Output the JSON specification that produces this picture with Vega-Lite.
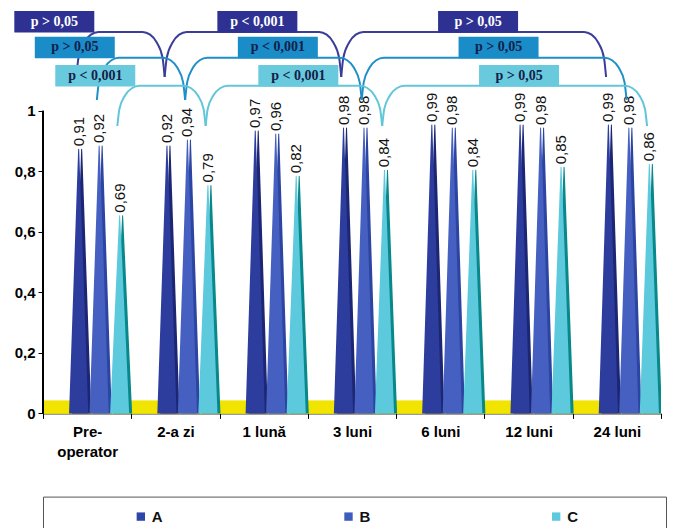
{
  "$schema": "https://vega.github.io/schema/vega-lite/v6.json",
  "padding": {"left": 14, "top": 2, "right": 5, "bottom": 0},
  "background": "white",
  "config": {
    "locale": {"number": {"decimal": ",", "thousands": ".", "grouping": [3], "currency": ["", ""]}},
    "view": {"stroke": null},
    "font": "Liberation Sans"
  },
  "datasets": {
    "scores": [
      {"time": "Pre-operator", "series": "A", "value": 0.91},
      {"time": "Pre-operator", "series": "B", "value": 0.92},
      {"time": "Pre-operator", "series": "C", "value": 0.69},
      {"time": "2-a zi", "series": "A", "value": 0.92},
      {"time": "2-a zi", "series": "B", "value": 0.94},
      {"time": "2-a zi", "series": "C", "value": 0.79},
      {"time": "1 lună", "series": "A", "value": 0.97},
      {"time": "1 lună", "series": "B", "value": 0.96},
      {"time": "1 lună", "series": "C", "value": 0.82},
      {"time": "3 luni", "series": "A", "value": 0.98},
      {"time": "3 luni", "series": "B", "value": 0.98},
      {"time": "3 luni", "series": "C", "value": 0.84},
      {"time": "6 luni", "series": "A", "value": 0.99},
      {"time": "6 luni", "series": "B", "value": 0.98},
      {"time": "6 luni", "series": "C", "value": 0.84},
      {"time": "12 luni", "series": "A", "value": 0.99},
      {"time": "12 luni", "series": "B", "value": 0.98},
      {"time": "12 luni", "series": "C", "value": 0.85},
      {"time": "24 luni", "series": "A", "value": 0.99},
      {"time": "24 luni", "series": "B", "value": 0.98},
      {"time": "24 luni", "series": "C", "value": 0.86}
    ],
    "tests": [
      {"series": "A", "from": "Pre-operator", "to": "2-a zi", "p": "p > 0,05"},
      {"series": "A", "from": "2-a zi", "to": "3 luni", "p": "p < 0,001"},
      {"series": "A", "from": "3 luni", "to": "24 luni", "p": "p > 0,05"},
      {"series": "B", "from": "Pre-operator", "to": "2-a zi", "p": "p > 0,05"},
      {"series": "B", "from": "2-a zi", "to": "3 luni", "p": "p < 0,001"},
      {"series": "B", "from": "3 luni", "to": "24 luni", "p": "p > 0,05"},
      {"series": "C", "from": "Pre-operator", "to": "2-a zi", "p": "p < 0,001"},
      {"series": "C", "from": "2-a zi", "to": "3 luni", "p": "p < 0,001"},
      {"series": "C", "from": "3 luni", "to": "24 luni", "p": "p > 0,05"}
    ]
  },
  "bounds": "flush",
  "spacing": 82.6,
  "vconcat": [
    {
      "width": 618,
      "height": 411.4,
      "layer": [
        {
          "data": {"name": "scores"},
          "mark": {"type": "bar", "color": "#f0e400"},
          "encoding": {
            "x": {
              "field": "time", "type": "nominal",
              "sort": ["Pre-operator", "2-a zi", "1 lună", "3 luni", "6 luni", "12 luni", "24 luni"],
              "title": null,
              "scale": {"paddingInner": 0, "paddingOuter": 0},
              "axis": {
                "labelAngle": 0, "tickBand": "extent", "tickSize": 5, "tickColor": "black",
                "domainColor": "black", "labelColor": "black", "labelFontSize": 15,
                "labelFontWeight": "bold", "labelPadding": 6, "labelLineHeight": 20,
                "labelExpr": "datum.label == 'Pre-operator' ? ['Pre-', 'operator'] : datum.label"
              }
            },
            "y": {
              "datum": 0, "type": "quantitative",
              "scale": {"domain": [0, 1.36], "nice": false},
              "axis": {
                "title": null, "values": [0, 0.2, 0.4, 0.6, 0.8, 1], "format": ".1~f",
                "domain": false, "grid": false, "tickSize": 5, "tickColor": "black",
                "labelColor": "black", "labelFontSize": 15, "labelFontWeight": "bold", "labelPadding": 3
              }
            },
            "y2": {"datum": 0.042}
          }
        },
        {
          "data": {"name": "scores"},
          "transform": [
            {"calculate": "indexof(['Pre-operator', '2-a zi', '1 lună', '3 luni', '6 luni', '12 luni', '24 luni'], datum.time) + 0.5 + (indexof(['A', 'B', 'C'], datum.series) - 1) * 0.232 + 0.136", "as": "xp"}
          ],
          "layer": [
            {
              "mark": {"type": "trail", "clip": true, "xOffset": 3, "yOffset": 11},
              "transform": [
                {"calculate": "0", "as": "base"},
                {"fold": ["base", "value"], "as": ["end", "v"]}
              ],
              "encoding": {
                "x": {"field": "xp", "type": "quantitative", "scale": {"domain": [0, 7], "nice": false, "zero": false}, "axis": null},
                "y": {"field": "v", "type": "quantitative", "scale": {"domain": [0, 1.36], "nice": false}, "title": null},
                "size": {"field": "end", "type": "ordinal", "scale": {"domain": ["base", "value"], "range": [20, 0]}, "legend": null},
                "color": {"field": "series", "type": "nominal", "scale": {"domain": ["A", "B", "C"], "range": ["#1c2672", "#2c44a2", "#08888a"]}, "legend": null},
                "detail": {"field": "time"},
                "order": {"field": "end"}
              }
            },
            {
              "mark": {"type": "trail", "clip": true, "yOffset": 11},
              "transform": [
                {"calculate": "0", "as": "base"},
                {"fold": ["base", "value"], "as": ["end", "v"]}
              ],
              "encoding": {
                "x": {"field": "xp", "type": "quantitative", "scale": {"domain": [0, 7], "nice": false, "zero": false}, "axis": null},
                "y": {"field": "v", "type": "quantitative", "scale": {"domain": [0, 1.36], "nice": false}, "title": null},
                "size": {"field": "end", "type": "ordinal", "scale": {"domain": ["base", "value"], "range": [20, 0]}, "legend": null},
                "color": {"field": "series", "type": "nominal", "scale": {"domain": ["A", "B", "C"], "range": ["#2d3d9e", "#4560c0", "#5ccadc"]}, "legend": null},
                "detail": {"field": "time"},
                "order": {"field": "end"}
              }
            },
            {
              "mark": {"type": "text", "angle": 270, "align": "left", "baseline": "middle", "yOffset": 8, "fontSize": 15, "color": "#111111"},
              "encoding": {
                "x": {"field": "xp", "type": "quantitative", "scale": {"domain": [0, 7], "nice": false, "zero": false}, "axis": null},
                "y": {"field": "value", "type": "quantitative", "scale": {"domain": [0, 1.36], "nice": false}, "title": null},
                "text": {"field": "value", "type": "quantitative", "format": ".2f"}
              }
            }
          ],
          "resolve": {"scale": {"color": "independent"}}
        },
        {
          "data": {"name": "tests"},
          "transform": [
            {"calculate": "indexof(['Pre-operator', '2-a zi', '1 lună', '3 luni', '6 luni', '12 luni', '24 luni'], datum.from)", "as": "i0"},
            {"calculate": "indexof(['Pre-operator', '2-a zi', '1 lună', '3 luni', '6 luni', '12 luni', '24 luni'], datum.to)", "as": "i1"},
            {"calculate": "indexof(['A', 'B', 'C'], datum.series)", "as": "k"},
            {"calculate": "datum.i0 + 0.5 + (datum.k - 1) * 0.232 + 0.11", "as": "x0"},
            {"calculate": "datum.i1 + 0.5 + (datum.k - 1) * 0.232 + 0.11", "as": "x1"},
            {"calculate": "[1.261, 1.176, 1.083][datum.k]", "as": "hi"},
            {"calculate": "[1.112, 1.036, 0.95][datum.k]", "as": "lo"}
          ],
          "layer": [
            {
              "mark": {"type": "rule", "color": "black", "strokeWidth": 1},
              "encoding": {
                "x": {"datum": 0, "type": "quantitative", "scale": {"domain": [0, 7], "nice": false, "zero": false}, "axis": null},
                "y": {"datum": 0, "type": "quantitative", "scale": {"domain": [0, 1.36], "nice": false}, "title": null},
                "y2": {"datum": 1}
              }
            },
            {
              "transform": [
                {"calculate": "[{o: 0, px: datum.x0, py: datum.lo}, {o: 1, px: datum.x0 + 0.0234, py: datum.lo + 0.4226 * (datum.hi - datum.lo)}, {o: 2, px: datum.x0 + 0.0893, py: datum.lo + 0.766 * (datum.hi - datum.lo)}, {o: 3, px: datum.x0 + 0.1645, py: datum.lo + 0.9397 * (datum.hi - datum.lo)}, {o: 4, px: datum.x0 + 0.25, py: datum.hi}, {o: 5, px: datum.x1 - 0.25, py: datum.hi}, {o: 6, px: datum.x1 - 0.1645, py: datum.lo + 0.9397 * (datum.hi - datum.lo)}, {o: 7, px: datum.x1 - 0.0893, py: datum.lo + 0.766 * (datum.hi - datum.lo)}, {o: 8, px: datum.x1 - 0.0234, py: datum.lo + 0.4226 * (datum.hi - datum.lo)}, {o: 9, px: datum.x1, py: datum.lo}]", "as": "pts"},
                {"flatten": ["pts"]}
              ],
              "mark": {"type": "line", "interpolate": "monotone", "strokeWidth": 2},
              "encoding": {
                "x": {"field": "pts.px", "type": "quantitative", "scale": {"domain": [0, 7], "nice": false, "zero": false}, "axis": null},
                "y": {"field": "pts.py", "type": "quantitative", "scale": {"domain": [0, 1.36], "nice": false}, "title": null},
                "order": {"field": "pts.o"},
                "detail": {"field": "from"},
                "color": {"field": "series", "type": "nominal", "scale": {"domain": ["A", "B", "C"], "range": ["#3a3d9b", "#1f8fca", "#62c6da"]}, "legend": null}
              }
            },
            {
              "transform": [
                {"calculate": "datum.i0 == 0 ? datum.x0 - 0.25 : (datum.x0 + datum.x1) / 2 + 0.05", "as": "cx"},
                {"calculate": "datum.cx - 0.453", "as": "bx0"},
                {"calculate": "datum.cx + 0.453", "as": "bx1"},
                {"calculate": "datum.hi - 0.002", "as": "by0"},
                {"calculate": "datum.hi + 0.069", "as": "by1"},
                {"calculate": "datum.hi + 0.034", "as": "cy"}
              ],
              "layer": [
                {
                  "mark": {"type": "rect"},
                  "encoding": {
                    "x": {"field": "bx0", "type": "quantitative", "scale": {"domain": [0, 7], "nice": false, "zero": false}, "axis": null},
                    "x2": {"field": "bx1"},
                    "y": {"field": "by0", "type": "quantitative", "scale": {"domain": [0, 1.36], "nice": false}, "title": null},
                    "y2": {"field": "by1"},
                    "color": {"field": "series", "type": "nominal", "scale": {"domain": ["A", "B", "C"], "range": ["#2e3192", "#1a8cc8", "#68cadc"]}, "legend": null}
                  }
                },
                {
                  "mark": {"type": "text", "font": "Liberation Serif", "fontWeight": "bold", "fontSize": 14, "baseline": "middle", "align": "center"},
                  "encoding": {
                    "x": {"field": "cx", "type": "quantitative", "scale": {"domain": [0, 7], "nice": false, "zero": false}, "axis": null},
                    "y": {"field": "cy", "type": "quantitative", "scale": {"domain": [0, 1.36], "nice": false}, "title": null},
                    "text": {"field": "p"},
                    "color": {"field": "series", "type": "nominal", "scale": {"domain": ["A", "B", "C"], "range": ["#ffffff", "#13204a", "#13204a"]}, "legend": null}
                  }
                }
              ],
              "resolve": {"scale": {"color": "independent"}}
            }
          ],
          "resolve": {"scale": {"color": "independent"}}
        }
      ],
      "resolve": {"scale": {"x": "independent", "color": "independent"}}
    },
    {
      "width": 623,
      "height": 40,
      "view": {"stroke": "#555555", "strokeWidth": 1},
      "data": {"name": "scores"},
      "transform": [{"aggregate": [{"op": "count", "as": "n"}], "groupby": ["series"]}],
      "encoding": {
        "x": {"field": "series", "type": "nominal", "scale": {"type": "point", "padding": 0.5}, "axis": null}
      },
      "layer": [
        {
          "mark": {"type": "square", "size": 70, "xOffset": -6, "opacity": 1},
          "encoding": {
            "color": {"field": "series", "type": "nominal", "scale": {"domain": ["A", "B", "C"], "range": ["#2d46a8", "#3e5cc0", "#5ccadc"]}, "legend": null}
          }
        },
        {
          "mark": {"type": "text", "align": "left", "baseline": "middle", "xOffset": 5, "fontSize": 15, "fontWeight": "bold", "color": "#111111"},
          "encoding": {"text": {"field": "series"}}
        }
      ]
    }
  ]
}
